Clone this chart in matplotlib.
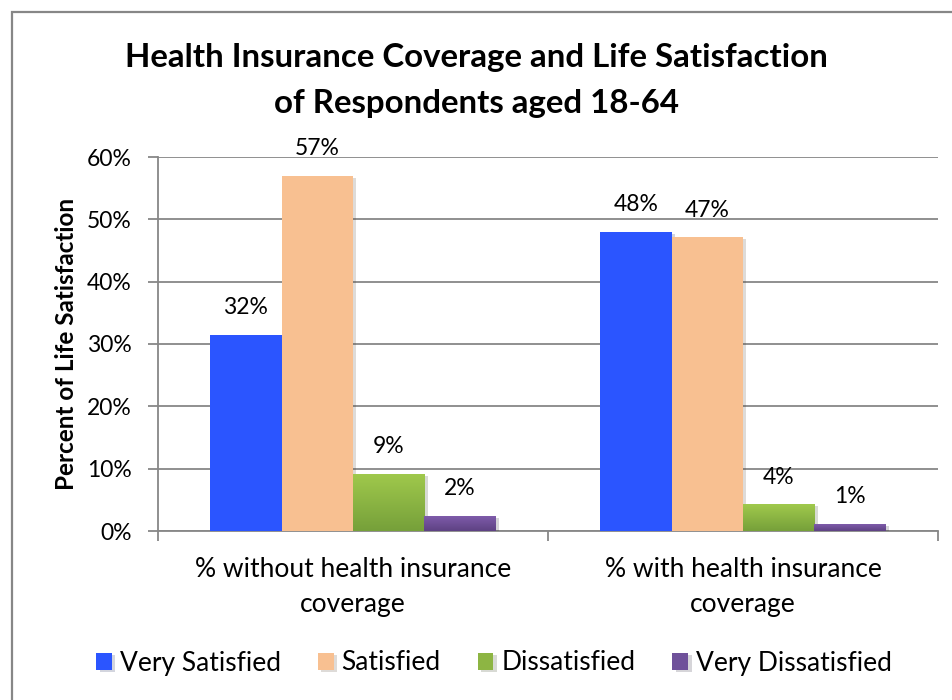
import numpy as np
import matplotlib.pyplot as plt
import matplotlib.patches as mpatches
import matplotlib.patheffects as pe
from matplotlib.colors import LinearSegmentedColormap

plt.rcParams['font.family'] = ['Lato', 'DejaVu Sans']

# datos
grupos = ['% without health insurance\ncoverage', '% with health insurance\ncoverage']
series = ['Very Satisfied', 'Satisfied', 'Dissatisfied', 'Very Dissatisfied']
muy_satisfecho = [0.315, 0.480]
satisfecho = [0.570, 0.471]
insatisfecho = [0.092, 0.043]
muy_insatisfecho = [0.024, 0.011]
valores = [muy_satisfecho, satisfecho, insatisfecho, muy_insatisfecho]

colores = ['#2B55FF', '#F8C091', '#8DB543', '#6F519A']
# degradados (arriba, abajo) para las barras verdes y moradas
degradados = {2: ('#A0C94C', '#76A03A'), 3: ('#7E5BAA', '#5E4283')}

fig = plt.figure(figsize=(9.52, 7.0), dpi=100)
ax = fig.add_axes([158/952, 1 - 531/700, 780/952, 374/700])

x = np.arange(len(grupos))
ancho = 0.183
sombra = [pe.SimplePatchShadow(offset=(2.5, -1.5), alpha=0.18), pe.Normal()]

for i, (nombre, vals) in enumerate(zip(series, valores)):
    pos = x + (i - 1.5) * ancho
    barras = ax.bar(pos, vals, ancho, color=colores[i], label=nombre,
                    zorder=3, linewidth=0)
    for b in barras:
        b.set_path_effects(sombra)
    if i in degradados:
        cmap = LinearSegmentedColormap.from_list('g%d' % i, [degradados[i][1], degradados[i][0]])
        for b in barras:
            x0, y0 = b.get_x(), b.get_y()
            w, h = b.get_width(), b.get_height()
            img = ax.imshow(np.linspace(0, 1, 64).reshape(-1, 1), cmap=cmap,
                            extent=(x0, x0 + w, y0, y0 + h), origin='lower',
                            aspect='auto', zorder=3.5)
            img.set_clip_path(b)
    for p, v in zip(pos, vals):
        ax.annotate('{:.0f}%'.format(v * 100), (p, v), xytext=(0, 12),
                    textcoords='offset points', ha='center', va='bottom',
                    fontsize=16.5)

ax.set_xlim(-0.5, 1.5)
ax.set_ylim(0, 0.6)
ax.set_yticks(np.arange(0, 0.61, 0.1))
ax.set_yticklabels(['{:.0f}%'.format(t * 100) for t in np.arange(0, 0.61, 0.1)], fontsize=16.5)
ax.set_xticks(x)
ax.set_xticklabels(grupos, fontsize=19, linespacing=1.5)
ax.set_xticks([-0.5, 0.5, 1.5], minor=True)
ax.tick_params(axis='x', which='major', length=0, pad=19)
ax.tick_params(axis='x', which='minor', length=7, width=1.3, color='#878787')
ax.tick_params(axis='y', length=7, width=1.3, color='#878787', pad=12)

ax.grid(axis='y', color='#878787', linewidth=1.3, zorder=0)
ax.set_axisbelow(True)
for s in ['top', 'right']:
    ax.spines[s].set_visible(False)
for s in ['left', 'bottom']:
    ax.spines[s].set_color('#878787')
    ax.spines[s].set_linewidth(1.3)

ax.set_ylabel('Percent of Life Satisfaction', fontsize=17.5, fontweight='bold', labelpad=6)

fig.text(476/952, 1 - 57/700, 'Health Insurance Coverage and Life Satisfaction',
         ha='center', va='center', fontsize=23.8, fontweight='bold')
fig.text(476/952, 1 - 104/700, 'of Respondents aged 18-64',
         ha='center', va='center', fontsize=23.8, fontweight='bold')

leg = fig.legend(loc='center', bbox_to_anchor=(494/952, 1 - 663/700), ncol=4,
                 frameon=False, fontsize=19, handlelength=0.6, handleheight=0.6,
                 handletextpad=0.3, columnspacing=1.4)

# marco exterior
marco = mpatches.Rectangle((12/952, -0.1), 2.0, 1 - 12/700 + 0.1, transform=fig.transFigure,
                           fill=False, edgecolor='#878787', linewidth=1.6)
fig.patches.append(marco)

fig.savefig('out.png', dpi=100)
